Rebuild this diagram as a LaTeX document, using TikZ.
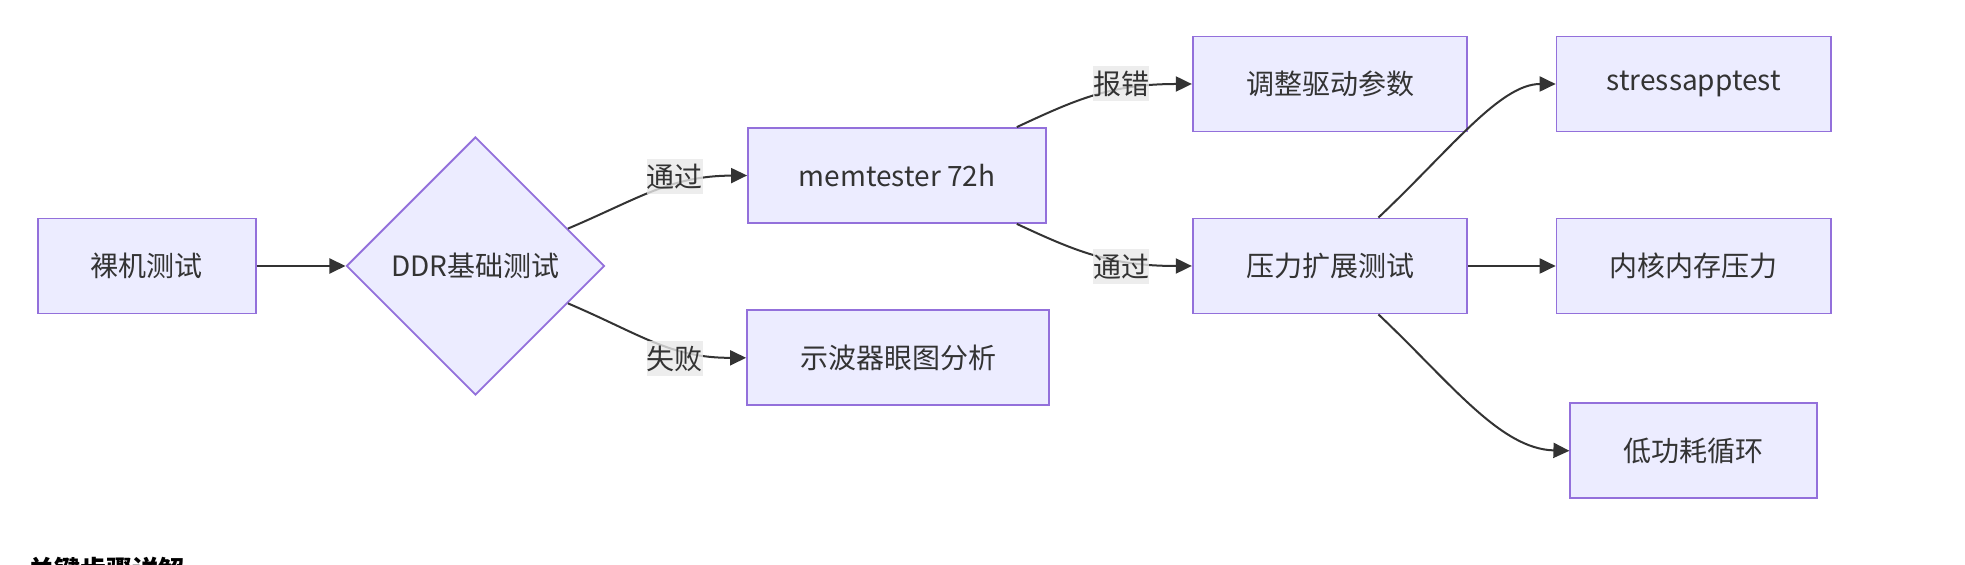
\documentclass[tikz,border=0pt]{standalone}
\usepackage{fontspec}
\setmainfont{Noto Sans CJK SC}
\usetikzlibrary{positioning,shapes.geometric,arrows.meta}
\definecolor{boxfill}{HTML}{ECECFF}
\definecolor{boxline}{HTML}{9370DB}
\definecolor{ink}{HTML}{333333}
\definecolor{lblbg}{HTML}{E8E8E8}
\tikzset{
  box/.style={draw=boxline,fill=boxfill,line width=0.9pt,text=ink,
    minimum height=47.5pt,inner sep=0pt,font=\fontsize{14}{17}\selectfont},
  decision/.style={box,diamond,minimum width=129pt,minimum height=129pt},
  lbl/.style={fill=lblbg,fill opacity=0.8,text opacity=1,text=ink,
    inner sep=0pt,minimum height=17.5pt,font=\fontsize{14}{17}\selectfont},
  arr/.style={draw=ink,line width=1pt,-{Triangle[length=8pt,width=7.5pt]}}
}

\begin{document}
\begin{tikzpicture}[x=0.5pt,y=-0.5pt]
  \useasboundingbox (0,0) rectangle (1965,565);

  \node [box,minimum width=109pt] (bare) at (146.6,266) {裸机测试};
  \node [decision] (ddr) [right=44.5pt of bare] {DDR基础测试};
  \node [box,minimum width=149pt] (mem) at (897,175.5) {memtester 72h};
  \node [box,minimum width=151pt] (scope) at (898,357.8) {示波器眼图分析};
  \node [box,minimum width=137.25pt] (adj) at (1330,84) {调整驱动参数};
  \node [box,minimum width=137.25pt] (press) at (1330,266) {压力扩展测试};
  \node [box,minimum width=137.25pt] (stress) [right=43.75pt of adj] {stressapptest};
  \node [box,minimum width=137.25pt] (kern) [right=43.75pt of press] {内核内存压力};
  \node [box,minimum width=123.5pt] (lowp) [below=44pt of kern] {低功耗循环};

  \draw [arr] (bare) -- (ddr);
  \draw [arr] (ddr.22) .. controls (640,198) and (670,176) .. (mem.west);
  \draw [arr] (ddr.-22) .. controls (640,334) and (670,358) .. (scope.west);
  \draw [arr] (mem.22) .. controls (1075,100) and (1110,84) .. (adj.west);
  \draw [arr] (mem.-22) .. controls (1075,251) and (1110,266) .. (press.west);
  \draw [arr] (press.45) .. controls (1450,150) and (1500,84) .. (stress.west);
  \draw [arr] (press) -- (kern);
  \draw [arr] (press.-45) .. controls (1450,382) and (1500,449) .. (lowp.west);

  \node [lbl] (pass1) at (674.5,176.7) {通过};
  \node [lbl] (fail) at (674.8,358.4) {失败};
  \node [lbl] (err) at (1121,84) {报错};
  \node [lbl] (pass2) at (1121,267) {通过};

  \node [anchor=north west,inner sep=0pt,text=black,
    font=\bfseries\fontsize{13}{15}\selectfont] (head) at (28,557) {关键步骤详解};
\end{tikzpicture}
\end{document}
